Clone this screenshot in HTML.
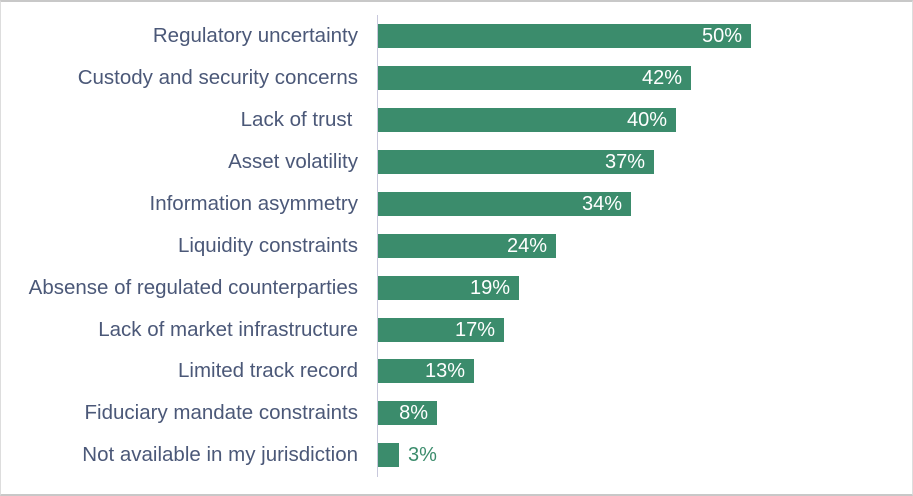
<!DOCTYPE html>
<html><head><style>
body{margin:0;width:913px;height:496px;background:#fff;position:relative;overflow:hidden;font-family:"Liberation Sans",sans-serif}
.fr{position:absolute;left:0;top:0;width:911px;height:492px;border-top:2px solid #c8c8c8;border-bottom:2px solid #c8c8c8;border-left:1px solid #ddd;border-right:1px solid #ddd}
.ax{position:absolute;left:377px;top:15px;width:1px;height:462px;background:#c8c8dc}
.l{position:absolute;right:555px;font-size:20.5px;color:#4b5878;white-space:nowrap;line-height:24px}
.b{position:absolute;left:378px;height:24px;background:#3b8c6c;color:#fff;font-size:20px;line-height:24px;text-align:right;box-sizing:border-box;padding-right:9px}
.o{position:absolute;font-size:20px;color:#3b8c6c;line-height:24px}
</style></head><body>
<div class="fr"></div><div class="ax"></div>
<div class="l" style="top:24px">Regulatory uncertainty</div><div class="b" style="top:24px;width:373px">50%</div>
<div class="l" style="top:66px">Custody and security concerns</div><div class="b" style="top:66px;width:313px">42%</div>
<div class="l" style="top:108px">Lack of trust&nbsp;</div><div class="b" style="top:108px;width:298px">40%</div>
<div class="l" style="top:150px">Asset volatility</div><div class="b" style="top:150px;width:276px">37%</div>
<div class="l" style="top:192px">Information asymmetry</div><div class="b" style="top:192px;width:253px">34%</div>
<div class="l" style="top:234px">Liquidity constraints</div><div class="b" style="top:234px;width:178px">24%</div>
<div class="l" style="top:276px">Absense of regulated counterparties</div><div class="b" style="top:276px;width:141px">19%</div>
<div class="l" style="top:318px">Lack of market infrastructure</div><div class="b" style="top:318px;width:126px">17%</div>
<div class="l" style="top:359px">Limited track record</div><div class="b" style="top:359px;width:96px">13%</div>
<div class="l" style="top:401px">Fiduciary mandate constraints</div><div class="b" style="top:401px;width:59px">8%</div>
<div class="l" style="top:443px">Not available in my jurisdiction</div><div class="b" style="top:443px;width:21px"></div><div class="o" style="top:443px;left:408px">3%</div>
</body></html>
